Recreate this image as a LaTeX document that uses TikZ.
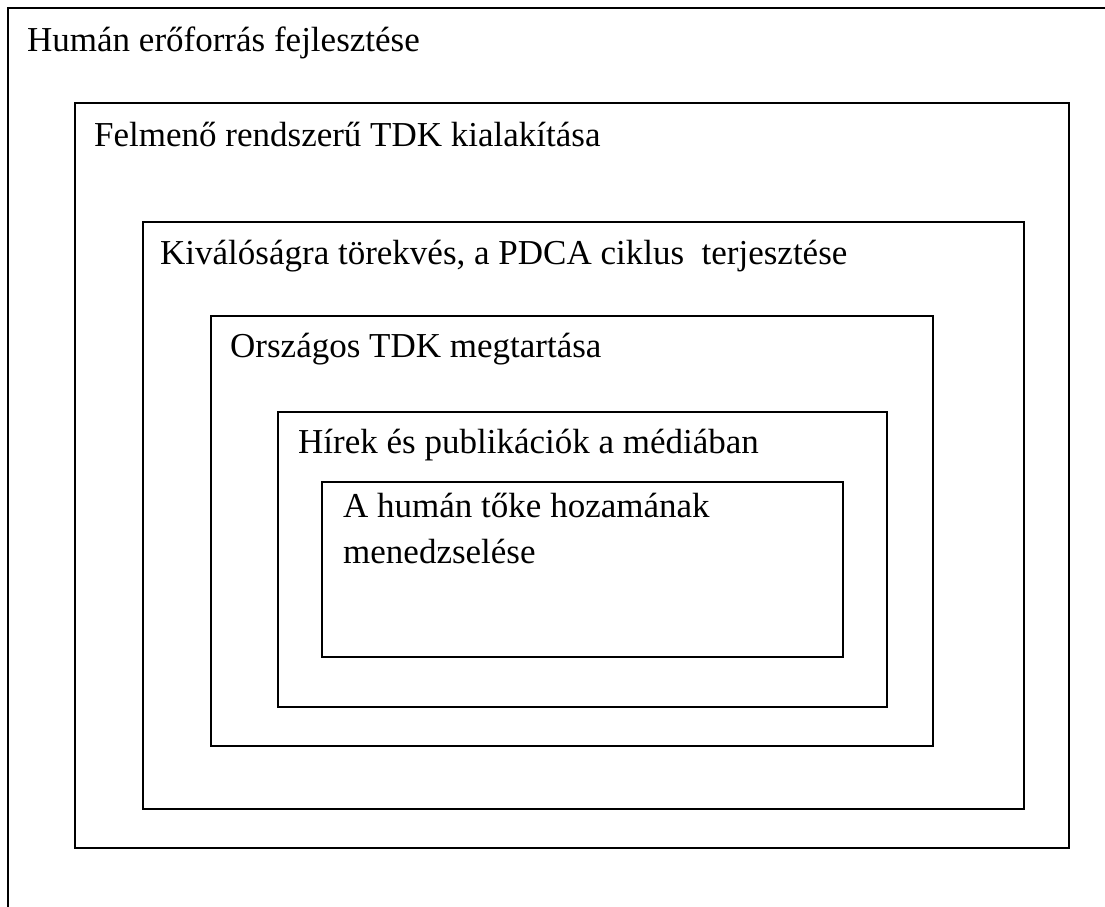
\documentclass[tikz,border=0pt]{standalone}
\usepackage{fontspec}
\setmainfont{Liberation Serif}
\begin{document}
\begin{tikzpicture}[x=1pt,y=-1pt,
  frame/.style={draw=black, line width=1.6pt},
  lbl/.style={anchor=base west, inner sep=0pt, font=\fontsize{35}{46}\selectfont}]
\useasboundingbox (0,0) rectangle (1105,907);
% outer frame (only top and left visible)
\draw[frame] (8,907) -- (8,8) -- (1105,8);
\draw[frame] (75,103) rectangle (1069,848);
\draw[frame] (143,222) rectangle (1024,809);
\draw[frame] (211,316) rectangle (933,746);
\draw[frame] (278,412) rectangle (887,707);
\draw[frame] (322,482) rectangle (843,657);
\node[lbl] (t1) at (27,52) {Humán erőforrás fejlesztése};
\node[lbl] (t2) at (94,146) {Felmenő rendszerű TDK kialakítása};
\node[lbl] (t3) at (160,264) {Kiválóságra törekvés, a PDCA ciklus\ \ terjesztése};
\node[lbl] (t4) at (230,357) {Országos TDK megtartása};
\node[lbl] (t5) at (298,453) {Hírek és publikációk a médiában};
\node[lbl] (t6) at (343,517) {A humán tőke hozamának};
\node[lbl] (t7) at (343,563) {menedzselése};
\end{tikzpicture}
\end{document}
